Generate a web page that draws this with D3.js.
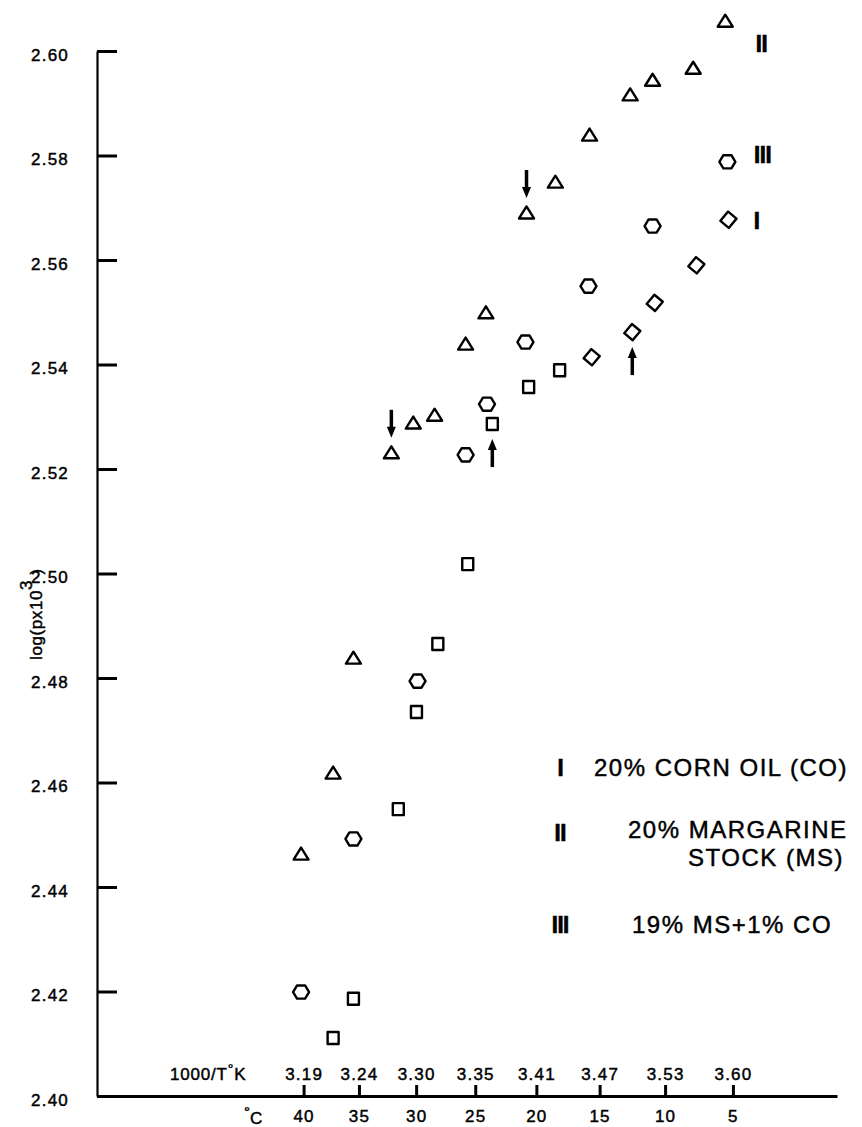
<!DOCTYPE html>
<html>
<head>
<meta charset="utf-8">
<script src="https://cdn.jsdelivr.net/npm/d3@7"></script>
<style>
  body { margin: 0; background: #fff; }
  svg { display: block; }
  text { font-family: "Liberation Sans", Arial, sans-serif; fill: #000; stroke: #000; stroke-width: 0.45px; }
</style>
</head>
<body>
<script>
// temperatures on the lower scale, and the 1000/T labels printed above the ticks
const celsius = [40, 35, 30, 25, 20, 15, 10, 5];
const invTLabels = ["3.19", "3.24", "3.30", "3.35", "3.41", "3.47", "3.53", "3.60"];
const yTicks = [2.40, 2.42, 2.44, 2.46, 2.48, 2.50, 2.52, 2.54, 2.56, 2.58, 2.60];

// [1000/T, log(p x 10^3)]
// I - 20% corn oil (squares, then diamonds at low temperature)
const cornOilSquares = [
  [3.221, 2.4111], [3.240, 2.4186], [3.282, 2.4549], [3.299, 2.4735], [3.319, 2.4865],
  [3.347, 2.5018], [3.370, 2.5286], [3.404, 2.5357], [3.433, 2.5389]
];
const cornOilDiamonds = [
  [3.463, 2.5414], [3.501, 2.5462], [3.522, 2.5518], [3.561, 2.5590], [3.591, 2.5677]
];
// II - 20% margarine stock
const margarine = [
  [3.191, 2.4463], [3.221, 2.4618], [3.240, 2.4838], [3.2755, 2.5231], [3.296, 2.5288],
  [3.316, 2.5303], [3.345, 2.5439], [3.364, 2.5499], [3.402, 2.5690], [3.429, 2.5749],
  [3.461, 2.5839], [3.499, 2.5916], [3.520, 2.5944], [3.558, 2.5967], [3.588, 2.6057]
];
// III - 19% MS + 1% CO
const blend = [
  [3.191, 2.4199], [3.240, 2.4492], [3.300, 2.4794], [3.345, 2.5227], [3.365, 2.5324],
  [3.401, 2.5443], [3.460, 2.5550], [3.520, 2.5665], [3.590, 2.5788]
];
// arrows marking the transitions
const arrows = [
  {x: 3.2755, y: 2.5231, dir: "down"},
  {x: 3.370, y: 2.5286, dir: "up"},
  {x: 3.402, y: 2.5690, dir: "down"},
  {x: 3.501, y: 2.5462, dir: "up"}
];

const width = 862, height = 1127;

const svg = d3.select("body").append("svg")
    .attr("width", width)
    .attr("height", height);

svg.append("rect").attr("width", width).attr("height", height).attr("fill", "#fff");

const x = d3.scaleLinear().domain([3.0, 3.6926]).range([97, 837]);
const y = d3.scaleLinear().domain([2.40, 2.60]).range([1096, 51]);

// Y axis, ticks pointing inwards
const yAxis = svg.append("g")
    .attr("transform", `translate(${x(3.0)},0)`)
    .call(d3.axisLeft(y).tickValues(yTicks).tickFormat(d3.format(".2f"))
        .tickSizeInner(-20).tickSizeOuter(0).tickPadding(28));
yAxis.select(".domain").attr("stroke-width", 2.2);
yAxis.selectAll(".tick line").attr("stroke-width", 3);
yAxis.selectAll(".tick text")
    .attr("font-size", 17).attr("letter-spacing", 1.2).attr("dy", "0.55em")
    .attr("font-family", "Liberation Sans, Arial, sans-serif");

// X axis: 1000/T labels above the line
const tickPos = celsius.map(c => 1000 / (c + 273.15));
const xAxis = svg.append("g")
    .attr("transform", `translate(0,${y(2.40)})`)
    .call(d3.axisTop(x).tickValues(tickPos).tickFormat((d, i) => invTLabels[i])
        .tickSizeInner(11).tickSizeOuter(0).tickPadding(5));
xAxis.select(".domain").attr("stroke-width", 3);
xAxis.selectAll(".tick line").attr("stroke-width", 3);
xAxis.selectAll(".tick text")
    .attr("font-size", 17).attr("letter-spacing", 1.2)
    .attr("font-family", "Liberation Sans, Arial, sans-serif");

// degrees C below the line
const cAxis = svg.append("g")
    .attr("transform", `translate(0,${y(2.40)})`)
    .call(d3.axisBottom(x).tickValues(tickPos).tickFormat((d, i) => celsius[i])
        .tickSize(0).tickPadding(14));
cAxis.select(".domain").remove();
cAxis.selectAll(".tick text")
    .attr("font-size", 17).attr("letter-spacing", 1.2)
    .attr("font-family", "Liberation Sans, Arial, sans-serif");

const kLabel = svg.append("text")
    .attr("x", 170).attr("y", 1080)
    .attr("font-size", 17).attr("letter-spacing", 0.8);
kLabel.append("tspan").text("1000/T");
kLabel.append("tspan").attr("dy", -6).attr("font-size", 14).text("°");
kLabel.append("tspan").attr("dy", 6).text("K");

const cLabel = svg.append("text")
    .attr("x", 244).attr("y", 1124)
    .attr("font-size", 17);
cLabel.append("tspan").attr("dy", -7).attr("font-size", 15).text("°");
cLabel.append("tspan").attr("dy", 7).text("C");

// Y axis title
const yTitle = svg.append("text")
    .attr("transform", "translate(42,660) rotate(-90)")
    .attr("font-size", 17).attr("letter-spacing", 0.6);
yTitle.append("tspan").text("log(px10");
yTitle.append("tspan").attr("dy", -10).attr("font-size", 17).text("3");
yTitle.append("tspan").attr("dy", 10).text(" )");

// marker shapes
const triangle = {
  draw(ctx) { ctx.moveTo(0, -6.5); ctx.lineTo(7.5, 5.5); ctx.lineTo(-7.5, 5.5); ctx.closePath(); }
};
const hexagon = {
  draw(ctx) {
    const r = 8;
    for (let i = 0; i < 6; i++) {
      const a = i * Math.PI / 3;
      const px = r * Math.cos(a), py = r * 0.95 * Math.sin(a);
      if (i === 0) ctx.moveTo(px, py); else ctx.lineTo(px, py);
    }
    ctx.closePath();
  }
};
const square = {
  draw(ctx) { ctx.rect(-5.5, -6, 11, 12); }
};

function plot(data, shape, rotate) {
  svg.append("g").selectAll("path")
    .data(data)
    .join("path")
      .attr("d", d3.symbol().type(shape)())
      .attr("transform", d => `translate(${x(d[0])},${y(d[1])}) rotate(${rotate})`)
      .attr("fill", "none")
      .attr("stroke", "#000")
      .attr("stroke-width", 2.4)
      .attr("stroke-linejoin", "round");
}

plot(margarine, triangle, 0);
plot(blend, hexagon, 0);
plot(cornOilSquares, square, 0);
plot(cornOilDiamonds, square, 40);

// arrows
const arrowG = svg.append("g");
arrows.forEach(a => {
  const sgn = a.dir === "down" ? -1 : 1;
  const tipY = y(a.y) + sgn * 15;
  const endY = tipY + sgn * 28;
  const cx = x(a.x);
  arrowG.append("line")
    .attr("x1", cx).attr("x2", cx)
    .attr("y1", endY).attr("y2", tipY + sgn * 8)
    .attr("stroke", "#000").attr("stroke-width", 3.5);
  arrowG.append("path")
    .attr("d", `M${cx},${tipY} L${cx - 4.5},${tipY + sgn * 11} L${cx + 4.5},${tipY + sgn * 11} Z`)
    .attr("fill", "#000");
});

// series numerals next to the last point of each series
const numeralStyle = s => s.attr("font-size", 24).attr("font-weight", "bold")
    .attr("letter-spacing", -1).attr("text-anchor", "middle");
const lastII = margarine[margarine.length - 1];
const lastIII = blend[blend.length - 1];
const lastI = cornOilDiamonds[cornOilDiamonds.length - 1];
svg.append("text").call(numeralStyle)
    .attr("x", x(lastII[0]) + 36).attr("y", y(lastII[1]) + 31).text("II");
svg.append("text").call(numeralStyle)
    .attr("x", x(lastIII[0]) + 35).attr("y", y(lastIII[1]) + 1).text("III");
svg.append("text").call(numeralStyle)
    .attr("x", x(lastI[0]) + 28).attr("y", y(lastI[1]) + 9).text("I");

// legend
const legend = [
  {num: "I", lines: ["20% CORN OIL (CO)"], tx: [594], ny: 776},
  {num: "II", lines: ["20% MARGARINE", "STOCK (MS)"], tx: [628, 688], ny: 841},
  {num: "III", lines: ["19% MS+1% CO"], tx: [632], ny: 933}
];
legend.forEach(l => {
  svg.append("text").call(numeralStyle)
    .attr("x", 560).attr("y", l.ny).text(l.num);
  l.lines.forEach((t, i) => {
    svg.append("text")
      .attr("x", l.tx[i]).attr("y", l.ny + i * 28 - (l.lines.length > 1 ? 3 : 0))
      .attr("font-size", 24).attr("letter-spacing", 1.5)
      .text(t);
  });
});
</script>
</body>
</html>
